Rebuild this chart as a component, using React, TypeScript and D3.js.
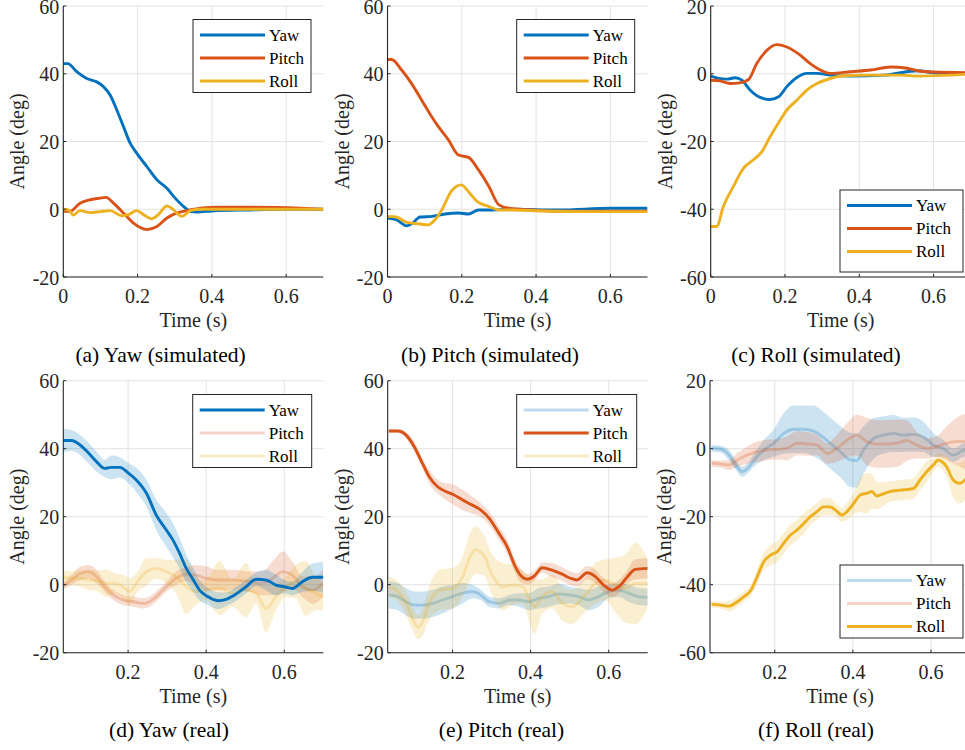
import React from 'react';
import * as d3 from 'd3';

// ---------- colours ----------
const BLUE = '#0072BD';
const ORANGE = '#D95319';
const YELLOW = '#EDB120';
const seriesNames = ['Yaw', 'Pitch', 'Roll'];

// ---------- tick labels ----------
const simXTicks = [0, 0.2, 0.4, 0.6];
const realXTicks = [0.2, 0.4, 0.6];
const yTicksA = [-20, 0, 20, 40, 60];
const yTicksC = [-60, -40, -20, 0, 20];

// ---------- (a) Yaw (simulated) ----------
const aYawT = [0, 0.012, 0.036, 0.063, 0.09, 0.108, 0.126, 0.144, 0.162, 0.18, 0.198, 0.225, 0.252, 0.279, 0.297, 0.324, 0.342, 0.36, 0.4, 0.5, 0.6, 0.7];
const aYawV = [43, 43, 40.6, 38.6, 37.6, 36.2, 33.7, 29.3, 24.4, 19.5, 16.5, 12.6, 8.7, 6.2, 3.8, 0.8, -0.6, -0.8, -0.5, -0.2, 0, 0];
const aPitchT = [0, 0.018, 0.045, 0.072, 0.099, 0.115, 0.135, 0.162, 0.189, 0.225, 0.252, 0.279, 0.306, 0.333, 0.369, 0.414, 0.504, 0.639, 0.7];
const aPitchV = [-0.6, -0.6, 1.8, 2.8, 3.3, 3.5, 1.8, -1.1, -4.1, -6.0, -5.1, -2.6, -1.1, -0.4, 0.3, 0.6, 0.6, 0.3, 0];
const aRollT = [0, 0.014, 0.027, 0.045, 0.072, 0.099, 0.126, 0.157, 0.175, 0.198, 0.216, 0.238, 0.256, 0.279, 0.297, 0.319, 0.342, 0.369, 0.45, 0.7];
const aRollV = [0, -0.2, -1.7, -0.4, -1, -0.7, -0.4, -1.9, -1.6, -0.4, -1.6, -2.8, -1.6, 1, -0.2, -2.1, -0.4, 0, 0, 0];

// ---------- (b) Pitch (simulated) ----------
const bYawT = [0, 0.024, 0.052, 0.065, 0.088, 0.12, 0.155, 0.191, 0.218, 0.245, 0.282, 0.327, 0.462, 0.6, 0.7];
const bYawV = [-2.6, -3.1, -4.9, -4.3, -2.3, -2.1, -1.4, -1.1, -1.4, -0.2, -0.2, 0, -0.2, 0.3, 0.3];
const bPitchT = [0, 0.011, 0.038, 0.065, 0.092, 0.119, 0.137, 0.164, 0.191, 0.218, 0.245, 0.273, 0.3, 0.327, 0.39, 0.462, 0.7];
const bPitchV = [44.2, 44.2, 41.1, 37.1, 32.2, 27.3, 24.4, 20.5, 16, 15.3, 11.6, 6.7, 1.3, 0.3, -0.2, -0.6, -0.6];
const bRollT = [0, 0.024, 0.052, 0.083, 0.11, 0.128, 0.146, 0.173, 0.199, 0.218, 0.241, 0.273, 0.3, 0.336, 0.417, 0.552, 0.7];
const bRollV = [-2.1, -2.3, -3.9, -4.3, -4.6, -3.1, -0.2, 5.5, 7.2, 5.2, 2.3, 0.8, -0.2, -0.2, -0.5, -0.7, -0.7];

// ---------- (c) Roll (simulated) ----------
const cYawT = [0, 0.016, 0.043, 0.066, 0.084, 0.106, 0.133, 0.16, 0.183, 0.205, 0.232, 0.259, 0.286, 0.322, 0.377, 0.467, 0.557, 0.602, 0.7];
const cYawV = [-0.7, -1.2, -1.6, -1.2, -1.9, -4.8, -7.0, -7.6, -6.8, -3.8, -1.1, 0.1, 0.1, -0.4, -0.7, -0.4, 0.9, 0.3, 0.1];
const cPitchT = [0, 0.025, 0.052, 0.079, 0.102, 0.124, 0.151, 0.178, 0.205, 0.241, 0.268, 0.295, 0.322, 0.377, 0.431, 0.485, 0.525, 0.557, 0.602, 0.7];
const cPitchV = [-1.9, -2.1, -2.9, -2.7, -1.7, 3, 6.9, 8.6, 7.9, 5.5, 3, 1.1, 0.1, 0.6, 1.1, 2.0, 1.7, 0.9, 0.5, 0.3];
const cRollT = [0, 0.016, 0.034, 0.061, 0.088, 0.115, 0.138, 0.16, 0.187, 0.205, 0.232, 0.259, 0.286, 0.322, 0.359, 0.422, 0.512, 0.557, 0.7];
const cRollV = [-45.1, -45.1, -39.2, -33.3, -27.9, -25.4, -23, -18.6, -13.7, -10.7, -7.8, -4.8, -2.9, -1.4, -0.6, -0.4, -0.4, -0.7, -0.1];

// ---------- (d) Yaw (real): mean and half band ----------
const dYawT = [0.034, 0.055, 0.077, 0.098, 0.119, 0.14, 0.157, 0.179, 0.2, 0.221, 0.247, 0.272, 0.298, 0.315, 0.332, 0.349, 0.366, 0.383, 0.404, 0.43, 0.451, 0.477, 0.502, 0.528, 0.553, 0.579, 0.6, 0.621, 0.647, 0.672, 0.7];
const dYawV = [42.4, 42.4, 41.1, 38.8, 36.2, 34.2, 34.5, 34.5, 32.9, 30.8, 26.9, 20.5, 16.1, 13.1, 9.2, 4.8, 1.6, -1.6, -3.5, -4.7, -4.3, -2.7, -0.6, 1.6, 1.4, -0.1, -0.6, -1.1, 0.9, 2.2, 2.2];
const dYawH = [3.5, 3, 3, 3, 3, 2.5, 3.5, 3, 3, 3.5, 4, 4.5, 5, 5, 4.5, 4, 3.5, 3, 2.5, 2.5, 2, 2, 2, 2, 3, 3, 2, 2, 3, 4, 4.5];
const dPitchT = [0.034, 0.055, 0.077, 0.098, 0.119, 0.14, 0.162, 0.187, 0.213, 0.238, 0.255, 0.272, 0.298, 0.323, 0.349, 0.374, 0.4, 0.426, 0.468, 0.511, 0.545, 0.57, 0.596, 0.621, 0.647, 0.672, 0.7];
const dPitchV = [-0.4, 1.4, 3.3, 3.8, 2.4, -0.6, -3, -4.5, -5, -5.5, -5, -3.5, -0.6, 1.9, 3.1, 2.8, 1.9, 1.4, 1.4, 0.9, 0.4, 1.9, 3.8, 2.8, -0.6, -1.6, 0.4];
const dPitchH = [1, 1.5, 2, 2, 2, 1.5, 1.5, 1.5, 1.5, 1.5, 1.5, 1.5, 1.5, 2, 2, 3, 3.5, 3, 3, 3, 3.5, 5, 6, 4, 3, 4, 4];
const dRollT = [0.034, 0.055, 0.077, 0.098, 0.119, 0.145, 0.166, 0.187, 0.204, 0.221, 0.247, 0.272, 0.298, 0.323, 0.349, 0.374, 0.4, 0.434, 0.468, 0.502, 0.528, 0.553, 0.579, 0.604, 0.63, 0.655, 0.681, 0.7];
const dRollV = [2.2, 1.9, 1.9, 1.4, 1.2, 0.4, 0.4, -0.6, -2, 0.4, 3.8, 4.8, 3.8, 2.4, -0.6, -2, -1.6, -1, -2.5, -1.6, -2.5, -7, -3.5, -0.6, 0.9, -1.1, -2.5, -3.5];
const dRollH = [2, 2, 2.5, 3, 3, 4, 3, 3.5, 4, 3, 4, 3, 3.5, 5, 8, 4, 3, 8, 4, 8, 3, 7, 4, 3, 5, 8, 5, 4];

// ---------- (e) Pitch (real) ----------
const ePitchT = [0.037, 0.06, 0.081, 0.102, 0.123, 0.14, 0.162, 0.183, 0.204, 0.226, 0.251, 0.272, 0.294, 0.319, 0.34, 0.357, 0.374, 0.391, 0.409, 0.43, 0.455, 0.481, 0.502, 0.519, 0.545, 0.566, 0.587, 0.609, 0.626, 0.647, 0.668, 0.7];
const ePitchV = [45.2, 45.2, 44, 40.6, 35.7, 31.8, 28.8, 27.4, 26.4, 24.9, 23.4, 22, 19.5, 15.1, 11.2, 6.3, 2.8, 1.6, 2.5, 5, 4.3, 3.1, 1.9, 1.4, 3.5, 2.4, -0.1, -1.6, -0.6, 2.2, 4.5, 4.8];
const ePitchH = [0.5, 0.5, 1, 1.5, 1.5, 2, 2, 2.5, 3, 3, 2.5, 2, 2, 2, 2, 2, 2, 1.5, 1.5, 1.5, 2, 2, 2, 2, 2, 2, 2, 2, 2, 2, 3, 3];
const eYawT = [0.037, 0.06, 0.081, 0.102, 0.123, 0.149, 0.174, 0.2, 0.226, 0.251, 0.272, 0.294, 0.319, 0.345, 0.37, 0.396, 0.421, 0.447, 0.472, 0.498, 0.523, 0.549, 0.574, 0.6, 0.626, 0.651, 0.677, 0.7];
const eYawV = [-3, -3.5, -5, -6, -6, -5.5, -4.5, -3.5, -2.5, -2, -3, -5, -5.5, -4.5, -4.5, -5, -4, -3.5, -2.7, -3, -3.5, -4.5, -3.5, -2, -1.6, -2.5, -3.5, -3.7];
const eYawH = [4, 4, 4, 4, 4, 4, 4, 3.5, 3, 2, 1.5, 1.5, 1.5, 1.5, 2, 2.5, 3, 3, 3, 2.5, 2.5, 3, 3, 2, 2, 2.5, 2.5, 2.5];
const eRollT = [0.037, 0.06, 0.081, 0.102, 0.111, 0.123, 0.14, 0.166, 0.2, 0.226, 0.245, 0.258, 0.28, 0.302, 0.328, 0.353, 0.379, 0.41, 0.43, 0.455, 0.481, 0.506, 0.54, 0.566, 0.591, 0.617, 0.643, 0.668, 0.7];
const eRollV = [-0.6, -2, -5.5, -11, -12.5, -11, -5.5, -1.6, -1.1, 2.4, 8.2, 10.2, 8.7, 2.8, -0.6, -0.1, -0.6, -6.5, -3.5, -2, -5.5, -6.5, -3, 0.4, 1.4, -0.1, -1.1, 0.4, 0.4];
const eRollH = [3, 3, 3.5, 3.5, 3.5, 4, 5, 6, 6, 6, 7, 7, 6, 6, 7, 6, 5, 8, 5, 5, 5, 5, 5, 6, 6, 8, 10, 12, 7];

// ---------- (f) Roll (real) ----------
const fRollT = [0.038, 0.061, 0.083, 0.104, 0.121, 0.138, 0.155, 0.172, 0.189, 0.206, 0.223, 0.24, 0.257, 0.274, 0.291, 0.308, 0.325, 0.342, 0.355, 0.372, 0.385, 0.402, 0.419, 0.436, 0.449, 0.461, 0.478, 0.495, 0.521, 0.555, 0.572, 0.589, 0.606, 0.618, 0.64, 0.657, 0.674, 0.687, 0.7];
const fRollV = [-45.8, -46, -46.3, -45, -43.5, -41.8, -37.6, -33.2, -31.3, -30.3, -27.8, -25.4, -23.9, -22, -20, -18.5, -17.1, -17.1, -18, -19.5, -18.5, -16.1, -13.6, -13.1, -12.6, -13.9, -13.3, -12.6, -12.2, -11.7, -9.2, -6.8, -4.8, -3.4, -5.3, -9.2, -10.2, -9.2, -8];
const fRollH = [1, 1, 1.5, 1.5, 1.5, 1.5, 2, 2.5, 3, 3, 3, 3, 3, 3, 2.5, 2.5, 2.5, 2.5, 2, 2, 2.5, 3, 5, 6, 5, 4, 3.5, 3, 3, 3, 3, 3, 2, 2, 3, 5, 6, 6, 6];
const fYawT = [0.038, 0.061, 0.083, 0.1, 0.117, 0.134, 0.151, 0.172, 0.197, 0.223, 0.249, 0.274, 0.3, 0.317, 0.342, 0.368, 0.393, 0.41, 0.427, 0.453, 0.478, 0.504, 0.529, 0.555, 0.58, 0.606, 0.631, 0.657, 0.687, 0.7];
const fYawV = [0.1, -0.1, -1.9, -4.8, -6.8, -5.3, -2.8, -0.4, 1.6, 4.5, 5.7, 5.7, 5.2, 4, 1.6, -0.9, -3.3, -3.5, -0.4, 3, 4, 4.5, 4, 4.2, 3.5, 1.1, 0.1, -1.9, -0.4, -1];
const fYawH = [1, 1, 1.5, 1.5, 1.5, 1.5, 2, 3, 4, 6, 7, 7, 7.5, 7.5, 7.5, 7.5, 8, 8, 7, 6, 5.5, 5.5, 5, 5, 4.5, 3.5, 2.5, 2, 2, 2];
const fPitchT = [0.038, 0.061, 0.083, 0.104, 0.129, 0.155, 0.18, 0.206, 0.231, 0.257, 0.283, 0.308, 0.334, 0.359, 0.385, 0.41, 0.436, 0.461, 0.487, 0.512, 0.538, 0.563, 0.589, 0.614, 0.64, 0.666, 0.687, 0.7];
const fPitchV = [-4.3, -4.5, -4.8, -3.3, -1.9, -0.9, -0.4, -0.2, 0.1, 1.6, 1.4, 1.1, -1.4, 0.1, 2.5, 4, 2.1, 1.4, 1.4, 1.6, 2.4, 1.1, 0.1, 0.6, 1.6, 2.1, 2.1, 2];
const fPitchH = [1, 1, 1.5, 2, 2.5, 3, 3, 3, 3.5, 3.5, 3.5, 3, 3, 4, 5, 6, 7, 7, 7, 7, 6, 4, 3, 3, 5, 7, 8, 8];

const FONT = '"Liberation Serif", "Times New Roman", Times, serif';
const AX = '#262626';

type Series = { t: number[]; v: number[]; h?: number[]; color: string; faded?: boolean };
type PanelCfg = {
  x0: number; y0: number; w: number; h: number;
  xDomain: [number, number]; yDomain: [number, number];
  xTicks: number[]; yTicks: number[];
  series: Series[]; // in legend order Yaw, Pitch, Roll
  drawOrder: number[];
  legend: { x: number; y: number; w: number; h: number };
  caption: string; captionX: number; captionY: number;
};

const fmt = (d: number) => (d === 0 ? '0' : String(d));

function Panel({ cfg, id }: { cfg: PanelCfg; id: string }) {
  const { x0, y0, w, h } = cfg;
  const x = d3.scaleLinear().domain(cfg.xDomain).range([x0, x0 + w]);
  const y = d3.scaleLinear().domain(cfg.yDomain).range([y0 + h, y0]);
  const line = d3.line<[number, number]>().x(d => x(d[0])).y(d => y(d[1])).curve(d3.curveMonotoneX);
  const area = d3.area<[number, number, number]>()
    .x(d => x(d[0])).y0(d => y(d[1] - d[2])).y1(d => y(d[1] + d[2])).curve(d3.curveMonotoneX);
  const clipId = `clip-${id}`;
  const lg = cfg.legend;
  return (
    <g>
      <defs>
        <clipPath id={clipId}><rect x={x0} y={y0 - 2} width={w} height={h + 2} /></clipPath>
      </defs>
      {/* grid */}
      {cfg.yTicks.map(t => (
        <line key={'gy' + t} x1={x0} x2={x0 + w} y1={y(t)} y2={y(t)} stroke="#e3e3e3" strokeWidth={1} />
      ))}
      {cfg.xTicks.map(t => (
        <line key={'gx' + t} x1={x(t)} x2={x(t)} y1={y0} y2={y0 + h} stroke="#e3e3e3" strokeWidth={1} />
      ))}
      {/* data */}
      <g clipPath={`url(#${clipId})`}>
        {cfg.drawOrder.map(i => {
          const s = cfg.series[i];
          const pts = s.t.map((t, k) => [t, s.v[k]] as [number, number]);
          const band = s.h ? s.t.map((t, k) => [t, s.v[k], s.h![k]] as [number, number, number]) : null;
          return (
            <g key={'s' + i}>
              {band && <path d={area(band) || ''} fill={s.color} fillOpacity={0.2} stroke="none" />}
              <path d={line(pts) || ''} fill="none" stroke={s.color} strokeWidth={2.9}
                strokeOpacity={s.faded ? 0.25 : 1} strokeLinejoin="round" />
            </g>
          );
        })}
      </g>
      {/* axes */}
      <line x1={x0} x2={x0} y1={y0} y2={y0 + h} stroke={AX} strokeWidth={1.1} />
      <line x1={x0} x2={x0 + w} y1={y0 + h} y2={y0 + h} stroke={AX} strokeWidth={1.1} />
      {cfg.yTicks.map(t => (
        <g key={'ty' + t}>
          <line x1={x0} x2={x0 + 3} y1={y(t)} y2={y(t)} stroke={AX} />
          <text x={x0 - 4} y={y(t)} dy="0.38em" textAnchor="end" fontSize={20} fontFamily={FONT} fill={AX}>{fmt(t)}</text>
        </g>
      ))}
      {cfg.xTicks.map(t => (
        <g key={'tx' + t}>
          <line x1={x(t)} x2={x(t)} y1={y0 + h} y2={y0 + h - 3} stroke={AX} />
          <text x={x(t)} y={y0 + h + 26} textAnchor="middle" fontSize={20} fontFamily={FONT} fill={AX}>{fmt(t)}</text>
        </g>
      ))}
      <text x={x0 + w / 2} y={y0 + h + 50} textAnchor="middle" fontSize={20} fontFamily={FONT} fill={AX}>Time (s)</text>
      <text transform={`translate(${x0 - 39},${y0 + h / 2}) rotate(-90)`} textAnchor="middle" fontSize={20} fontFamily={FONT} fill={AX}>Angle (deg)</text>
      {/* legend */}
      <rect x={lg.x} y={lg.y} width={lg.w} height={lg.h} fill="#fff" stroke={AX} strokeWidth={1} />
      {cfg.series.map((s, i) => {
        const ly = lg.y + 15.5 + i * 23;
        return (
          <g key={'lg' + i}>
            <line x1={lg.x + 7} x2={lg.x + 72} y1={ly} y2={ly} stroke={s.color} strokeWidth={3} strokeOpacity={s.faded ? 0.25 : 1} />
            <text x={lg.x + 76} y={ly} dy="0.34em" fontSize={17} fontFamily={FONT} fill="#000">{seriesNames[i]}</text>
          </g>
        );
      })}
      {/* caption */}
      <text x={cfg.captionX} y={cfg.captionY} textAnchor="middle" fontSize={21.5} fontFamily={FONT} fill="#000">{cfg.caption}</text>
    </g>
  );
}

const TOP_Y0 = 6, TOP_H = 271, BOT_Y0 = 380.7, BOT_H = 272, W = 260;

const panels: PanelCfg[] = [
  {
    x0: 63.3, y0: TOP_Y0, w: W, h: TOP_H, xDomain: [0, 0.7], yDomain: [-20, 60], xTicks: simXTicks, yTicks: yTicksA,
    series: [
      { t: aYawT, v: aYawV, color: BLUE },
      { t: aPitchT, v: aPitchV, color: ORANGE },
      { t: aRollT, v: aRollV, color: YELLOW },
    ],
    drawOrder: [0, 1, 2],
    legend: { x: 193, y: 19.5, w: 118, h: 73 },
    caption: '(a) Yaw (simulated)', captionX: 160.5, captionY: 362,
  },
  {
    x0: 387.5, y0: TOP_Y0, w: W, h: TOP_H, xDomain: [0, 0.7], yDomain: [-20, 60], xTicks: simXTicks, yTicks: yTicksA,
    series: [
      { t: bYawT, v: bYawV, color: BLUE },
      { t: bPitchT, v: bPitchV, color: ORANGE },
      { t: bRollT, v: bRollV, color: YELLOW },
    ],
    drawOrder: [0, 1, 2],
    legend: { x: 516.7, y: 19.5, w: 118, h: 73 },
    caption: '(b) Pitch (simulated)', captionX: 490, captionY: 362,
  },
  {
    x0: 710.7, y0: TOP_Y0, w: W, h: TOP_H, xDomain: [0, 0.7], yDomain: [-60, 20], xTicks: simXTicks, yTicks: yTicksC,
    series: [
      { t: cYawT, v: cYawV, color: BLUE },
      { t: cPitchT, v: cPitchV, color: ORANGE },
      { t: cRollT, v: cRollV, color: YELLOW },
    ],
    drawOrder: [0, 1, 2],
    legend: { x: 840, y: 190, w: 123, h: 82 },
    caption: '(c) Roll (simulated)', captionX: 816, captionY: 362,
  },
  {
    x0: 63.3, y0: BOT_Y0, w: W, h: BOT_H, xDomain: [0.034, 0.7], yDomain: [-20, 60], xTicks: realXTicks, yTicks: yTicksA,
    series: [
      { t: dYawT, v: dYawV, h: dYawH, color: BLUE },
      { t: dPitchT, v: dPitchV, h: dPitchH, color: ORANGE, faded: true },
      { t: dRollT, v: dRollV, h: dRollH, color: YELLOW, faded: true },
    ],
    drawOrder: [1, 2, 0],
    legend: { x: 192.7, y: 394.5, w: 119, h: 73 },
    caption: '(d) Yaw (real)', captionX: 169, captionY: 737,
  },
  {
    x0: 387.7, y0: BOT_Y0, w: W, h: BOT_H, xDomain: [0.034, 0.7], yDomain: [-20, 60], xTicks: realXTicks, yTicks: yTicksA,
    series: [
      { t: eYawT, v: eYawV, h: eYawH, color: BLUE, faded: true },
      { t: ePitchT, v: ePitchV, h: ePitchH, color: ORANGE },
      { t: eRollT, v: eRollV, h: eRollH, color: YELLOW, faded: true },
    ],
    drawOrder: [0, 2, 1],
    legend: { x: 516.7, y: 394.5, w: 120, h: 73 },
    caption: '(e) Pitch (real)', captionX: 501.5, captionY: 737,
  },
  {
    x0: 710, y0: BOT_Y0, w: W, h: BOT_H, xDomain: [0.034, 0.7], yDomain: [-60, 20], xTicks: realXTicks, yTicks: yTicksC,
    series: [
      { t: fYawT, v: fYawV, h: fYawH, color: BLUE, faded: true },
      { t: fPitchT, v: fPitchV, h: fPitchH, color: ORANGE, faded: true },
      { t: fRollT, v: fRollV, h: fRollH, color: YELLOW },
    ],
    drawOrder: [0, 1, 2],
    legend: { x: 840, y: 565, w: 123, h: 73 },
    caption: '(f) Roll (real)', captionX: 816, captionY: 737,
  },
];

export default function App() {
  return (
    <svg width={965} height={750} style={{ position: 'absolute', left: 0, top: 0, background: '#fff' }}>
      <rect x={0} y={0} width={965} height={750} fill="#fff" />
      {panels.map((p, i) => <Panel key={i} cfg={p} id={'p' + i} />)}
    </svg>
  );
}
